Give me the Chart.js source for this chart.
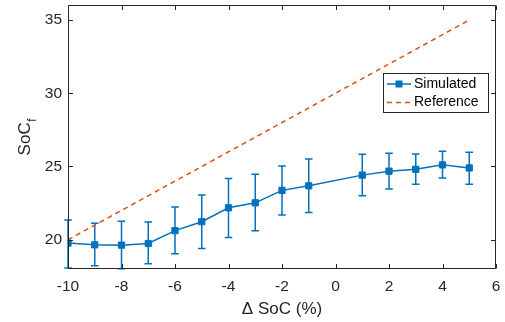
<!DOCTYPE html>
<html>
<head>
<meta charset="utf-8">
<script src="https://cdn.jsdelivr.net/npm/chart.js@4.4.1/dist/chart.umd.min.js"></script>
<style>
  html, body { margin: 0; padding: 0; background: #ffffff; }
  #wrap { width: 505px; height: 322px; }
</style>
</head>
<body>
<div id="wrap"><canvas id="c" width="505" height="322"></canvas></div>
<script>
// ---- data ----
const deltaSoC = [-10, -9, -8, -7, -6, -5, -4, -3, -2, -1, 1, 2, 3, 4, 5];
const simulated = [19.77, 19.65, 19.63, 19.74, 20.62, 21.23, 22.18, 22.52, 23.37, 23.68, 24.41, 24.68, 24.81, 25.11, 24.90];
const simUpper = [21.35, 21.13, 21.26, 21.21, 22.23, 23.05, 24.18, 24.47, 25.04, 25.51, 25.83, 25.90, 25.85, 26.04, 25.97];
const simLower = [18.07, 18.22, 18.02, 18.36, 19.04, 19.40, 20.15, 20.62, 21.69, 21.85, 23.00, 23.46, 23.79, 24.22, 23.79];
const refX = [-10, 5];
const refY = [20, 35];
const xTicks = [-10, -8, -6, -4, -2, 0, 2, 4, 6];
const yTicks = [20, 25, 30, 35];
const seriesNames = ['Simulated', 'Reference'];

const BLUE = '#0072BD';
const ORANGE = '#D95319';
const AXIS = '#262626';
const FONT = '"Liberation Sans", Arial, Helvetica, sans-serif';

const errorBars = {
  id: 'errorBars',
  beforeDatasetsDraw(chart) {
    const {ctx, scales: {x, y}} = chart;
    ctx.save();
    ctx.strokeStyle = BLUE;
    ctx.lineWidth = 1.5;
    const cap = 3.8;
    for (let i = 0; i < deltaSoC.length; i++) {
      const px = x.getPixelForValue(deltaSoC[i]);
      const yh = y.getPixelForValue(simUpper[i]);
      const yl = y.getPixelForValue(simLower[i]);
      ctx.beginPath();
      ctx.moveTo(px, yh); ctx.lineTo(px, yl);
      ctx.moveTo(px - cap, yh); ctx.lineTo(px + cap, yh);
      ctx.moveTo(px - cap, yl); ctx.lineTo(px + cap, yl);
      ctx.stroke();
    }
    ctx.restore();
  }
};

const frame = {
  id: 'frame',
  afterDraw(chart) {
    const {ctx, chartArea: a, scales: {x, y}} = chart;
    ctx.save();
    ctx.strokeStyle = AXIS;
    ctx.lineWidth = 1;
    const L = Math.round(a.left) + 0.5, R = Math.round(a.right) - 0.5;
    const T = Math.round(a.top) + 0.5, B = Math.round(a.bottom) - 0.5;
    ctx.beginPath();
    ctx.rect(L, T, R - L, B - T);
    const tl = 4.5;
    xTicks.forEach(v => {
      const p = Math.round(x.getPixelForValue(v)) + 0.5;
      ctx.moveTo(p, B); ctx.lineTo(p, B - tl);
      ctx.moveTo(p, T); ctx.lineTo(p, T + tl);
    });
    yTicks.forEach(v => {
      const p = Math.round(y.getPixelForValue(v)) + 0.5;
      ctx.moveTo(L, p); ctx.lineTo(L + tl, p);
      ctx.moveTo(R, p); ctx.lineTo(R - tl, p);
    });
    ctx.stroke();

    // y-axis title with subscript
    ctx.fillStyle = AXIS;
    ctx.translate(25, (a.top + a.bottom) / 2);
    ctx.rotate(-Math.PI / 2);
    ctx.font = '17px ' + FONT;
    const w1 = ctx.measureText('SoC').width;
    ctx.font = '12px ' + FONT;
    const w2 = ctx.measureText('f').width;
    const start = -(w1 + w2) / 2;
    ctx.textBaseline = 'middle';
    ctx.textAlign = 'left';
    ctx.font = '17px ' + FONT;
    ctx.fillText('SoC', start, 0);
    ctx.font = '12px ' + FONT;
    ctx.fillText('f', start + w1 + 0.5, 8);
    ctx.restore();

    // legend
    ctx.save();
    const bx = 383.5, by = 73.5, bw = 105, bh = 39;
    ctx.fillStyle = '#ffffff';
    ctx.fillRect(bx, by, bw, bh);
    ctx.strokeStyle = AXIS;
    ctx.lineWidth = 1;
    ctx.strokeRect(bx, by, bw, bh);
    const r1 = 84, r2 = 102.5;
    ctx.strokeStyle = BLUE;
    ctx.lineWidth = 1.5;
    ctx.beginPath(); ctx.moveTo(387, r1); ctx.lineTo(411, r1); ctx.stroke();
    ctx.fillStyle = BLUE;
    ctx.fillRect(395.5, r1 - 3.5, 7, 7);
    ctx.strokeStyle = ORANGE;
    ctx.setLineDash([5, 4]);
    ctx.beginPath(); ctx.moveTo(387, r2); ctx.lineTo(412, r2); ctx.stroke();
    ctx.setLineDash([]);
    ctx.fillStyle = '#000000';
    ctx.font = '14px ' + FONT;
    ctx.textBaseline = 'middle';
    ctx.textAlign = 'left';
    ctx.fillText(seriesNames[0], 414, r1);
    ctx.fillText(seriesNames[1], 414, r2);
    ctx.restore();
  }
};

new Chart(document.getElementById('c'), {
  type: 'line',
  data: {
    datasets: [
      {
        label: seriesNames[0],
        data: deltaSoC.map((v, i) => ({x: v, y: simulated[i]})),
        borderColor: BLUE,
        backgroundColor: BLUE,
        borderWidth: 1.5,
        pointStyle: 'rect',
        pointRadius: 4.4,
        pointBorderWidth: 1,
        pointBackgroundColor: BLUE,
        pointBorderColor: BLUE,
        tension: 0,
        order: 1
      },
      {
        label: seriesNames[1],
        data: refX.map((v, i) => ({x: v, y: refY[i]})),
        borderColor: ORANGE,
        borderWidth: 1.5,
        borderDash: [5, 4],
        pointRadius: 0,
        tension: 0,
        order: 2
      }
    ]
  },
  options: {
    responsive: false,
    animation: false,
    devicePixelRatio: 1,
    layout: { padding: { top: 4, right: 9, left: 0, bottom: 0 } },
    plugins: { legend: { display: false }, tooltip: { enabled: false } },
    scales: {
      x: {
        type: 'linear',
        min: -10, max: 6,
        afterBuildTicks: s => { s.ticks = xTicks.map(v => ({value: v})); },
        afterFit: s => { s.height = 53; s.paddingLeft = 0; s.paddingRight = 0; },
        grid: { display: false, drawTicks: false },
        border: { display: false },
        ticks: { color: AXIS, font: { family: FONT, size: 15.5 }, padding: 8, maxRotation: 0 },
        title: { display: true, text: 'Δ SoC (%)', color: AXIS, font: { family: FONT, size: 17 }, padding: { top: 0, bottom: 2 } }
      },
      y: {
        type: 'linear',
        min: 18, max: 36,
        afterBuildTicks: s => { s.ticks = yTicks.map(v => ({value: v})); },
        afterFit: s => { s.width = 68; s.paddingTop = 0; s.paddingBottom = 0; },
        grid: { display: false, drawTicks: false },
        border: { display: false },
        ticks: { color: AXIS, font: { family: FONT, size: 15.5 }, padding: 6 }
      }
    }
  },
  plugins: [errorBars, frame]
});
</script>
</body>
</html>
